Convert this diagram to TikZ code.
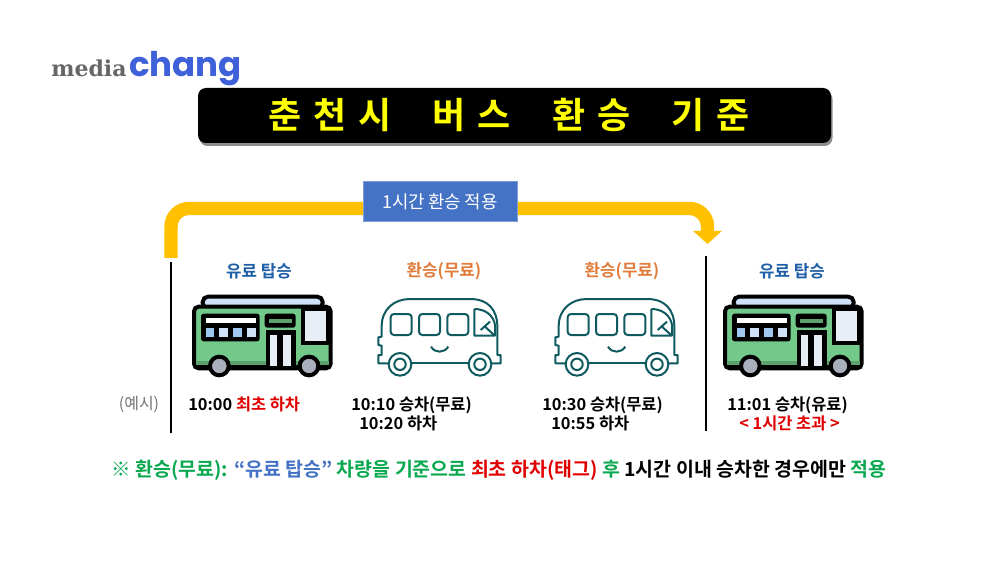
\documentclass[tikz,border=0pt]{standalone}
\usepackage{fontspec}
\setmainfont{Noto Sans CJK KR}[BoldFont={Noto Sans CJK KR Bold}]
\newfontfamily\titlefont{Noto Sans CJK KR Bold}[LetterSpace=33]
\newfontfamily\mediafont{DejaVu Serif}
\newfontfamily\changfont{Poppins}
\usetikzlibrary{arrows.meta}
\definecolor{rideblue}{RGB}{31,95,168}
\definecolor{freeorange}{RGB}{224,123,57}
\definecolor{noteblue}{RGB}{68,114,196}
\definecolor{notegreen}{RGB}{10,168,79}
\definecolor{notered}{RGB}{224,0,0}
\definecolor{roofblue}{RGB}{207,226,247}
\definecolor{paneblue}{RGB}{159,200,240}
\definecolor{panewhite}{RGB}{232,238,245}
\definecolor{bodygreen}{RGB}{114,201,138}
\definecolor{darkgreen}{RGB}{93,162,109}
\definecolor{wheelgray}{RGB}{170,176,187}
\definecolor{tealline}{RGB}{15,90,95}
\definecolor{ridegold}{RGB}{255,192,0}

\begin{document}
\begin{tikzpicture}[x=0.75pt, y=-0.75pt, every node/.style={inner sep=0pt}]
  \tikzset{titlebox/.style={rectangle, rounded corners=6pt, fill=black, minimum width=474.75pt, minimum height=41.25pt}}
  \tikzset{titleshadow/.style={rectangle, rounded corners=6pt, fill=black!45, minimum width=474.75pt, minimum height=41.25pt}}
  \tikzset{applybox/.style={rectangle, fill=noteblue, draw=noteblue!70!white, line width=0.5pt, minimum width=115.5pt, minimum height=30.5pt, text=white, font=\fontsize{13.4}{16}\selectfont}}
  \tikzset{ride/.style={draw=ridegold, line width=10pt, rounded corners=13.5pt}}
  \tikzset{ridetip/.style={draw=ridegold, line width=10pt, -{Triangle[length=9.8pt, width=21pt]}}}
  \tikzset{divider/.style={draw=black, line width=1.2pt}}
  \tikzset{head/.style={font=\bfseries\fontsize{12.6}{15}\selectfont}}
  \tikzset{stamp/.style={anchor=west, font=\bfseries\fontsize{12.3}{15}\selectfont}}
  \tikzset{greenbus/.pic={
    \begin{scope}[x=0.25pt, y=-0.25pt, draw=black, line width=3pt]
      \draw[fill=roofblue, rounded corners=4pt] (128,85) rectangle (488,50);
      \draw[fill=bodygreen, rounded corners=3.5pt] (102,80) rectangle (512,265);
      \fill[darkgreen] (108,243) rectangle (506,256);
      \fill[black] (104,256) rectangle (510,268);
      \draw[fill=panewhite] (428,86) -- (505,86) -- (505,188) -- (428,188) -- cycle;
      \fill[black, rounded corners=2pt] (123,101) rectangle (299,184);
      \fill[white] (137,115) rectangle (287,130);
      \fill[paneblue] (137,143) rectangle (163,170);
      \fill[roofblue] (178,143) rectangle (205,170);
      \fill[paneblue] (218,143) rectangle (245,170);
      \fill[roofblue] (260,143) rectangle (287,170);
      \fill[black, rounded corners=2pt] (314,101) rectangle (407,143);
      \fill[darkgreen] (327,117) rectangle (395,130);
      \fill[black] (318,150) rectangle (407,265);
      \fill[panewhite] (330,165) rectangle (352,258);
      \fill[panewhite] (368,165) rectangle (393,258);
      \draw[fill=wheelgray] (178,258) circle (7pt);
      \draw[fill=wheelgray] (447,258) circle (7pt);
    \end{scope}
  }}
  \tikzset{linebus/.pic={
    \begin{scope}[x=0.25pt, y=-0.25pt, draw=tealline, line width=1.5pt]
      \draw[line join=round] (85,250) -- (55,250) -- (55,225) -- (65,225) -- (65,197) -- (55,195) -- (55,172) -- (65,170) -- (65,140) .. controls (65,85) and (105,57) .. (150,57) -- (330,57) .. controls (385,57) and (412,90) .. (412,140) -- (412,225) -- (422,225) -- (422,250) -- (395,250);
      \draw (155,250) -- (325,250);
      \foreach \winx in {92,177,262}
        \draw[rounded corners=2.5pt] (\winx,102) rectangle +(63,63);
      \draw[line join=round] (343,87) -- (343,167) -- (405,167) -- (405,135) .. controls (400,105) and (375,87) .. (343,87);
      \draw (362,150) -- (390,125);
      \draw (375,140) -- (402,165);
      \draw (213,200) .. controls (225,220) and (252,220) .. (265,200);
      \draw (120,253) circle (8.5pt);
      \draw (120,253) circle (4.3pt);
      \draw (360,253) circle (8.5pt);
      \draw (360,253) circle (4.3pt);
    \end{scope}
  }}

  \useasboundingbox (0,0) rectangle (1000,563);

  % logo and title
  \node[anchor=base west, text={rgb,255:red,102;green,102;blue,102}, font=\mediafont\bfseries\fontsize{16.5}{18}\selectfont] (media) at (51,77) {media};
  \node[anchor=base west, text={rgb,255:red,62;green,96;blue,216}, font=\changfont\bfseries\fontsize{25.5}{28}\selectfont] (chang) at (129,77) {chang};
  \node[titleshadow] (titleshade) at (516,118.5) {};
  \node[titlebox] (title) at (514.5,115.5) {};
  \node[anchor=west, text={rgb,255:red,255;green,255;blue,0}, font=\titlefont\fontsize{27}{32}\selectfont] (titletext) at (268,115) {춘천시\hspace{31pt}버스\hspace{31pt}환승\hspace{31pt}기준};

  % transfer arrow
  \coordinate (ridestart) at (171,258);
  \coordinate (ridebend) at (707.5,232);
  \coordinate (rideend) at (707.5,244);
  \draw[ride] (ridestart) -- (171,208.5) -- (707.5,208.5) -- (ridebend);
  \draw[ridetip] (ridebend) -- (rideend);
  \node[applybox] (apply) at (440,201.5) {1시간\hspace{2.5pt}환승\hspace{2.5pt}적용};

  % dividers
  \coordinate (leftup) at (171,262);
  \coordinate (leftdown) at (171,433);
  \coordinate (rightup) at (706,256);
  \coordinate (rightdown) at (706,431);
  \draw[divider] (leftup) -- (leftdown);
  \draw[divider] (rightup) -- (rightdown);

  % headings
  \node[head, text=rideblue] (paid1) at (259,271) {유료 탑승};
  \node[head, text=freeorange] (free1) at (444,271) {환승(무료)};
  \node[head, text=freeorange] (free2) at (622,271) {환승(무료)};
  \node[head, text=rideblue] (paid2) at (792,271) {유료 탑승};

  % buses
  \pic at (160,280) {greenbus};
  \pic at (360,280) {linebus};
  \pic at (537,280) {linebus};
  \pic at (691,280) {greenbus};

  % times
  \node[text=black!55, font=\fontsize{12}{14}\selectfont] (example) at (139,404) {(예시)};
  \node[stamp] (t1) at (188,404) {10:00 \textcolor{notered}{최초 하차}};
  \node[stamp] (t2) at (351,405) {10:10 승차(무료)};
  \node[stamp] (t3) at (359,423) {10:20 하차};
  \node[stamp] (t4) at (542,405) {10:30 승차(무료)};
  \node[stamp] (t5) at (551,423) {10:55 하차};
  \node[stamp] (t6) at (727,405) {11:01 승차(유료)};
  \node[stamp, text=notered] (t7) at (739,423) {< 1시간 초과 >};

  % note
  \node[font=\bfseries\fontsize{14.6}{18}\selectfont, text=notegreen] (note) at (499,470) {※ 환승(무료): \textcolor{noteblue}{“유료 탑승”} 차량을 기준으로 \textcolor{notered}{최초 하차(태그)} 후 \textcolor{black}{1시간 이내 승차한 경우에만} 적용};
\end{tikzpicture}
\end{document}
